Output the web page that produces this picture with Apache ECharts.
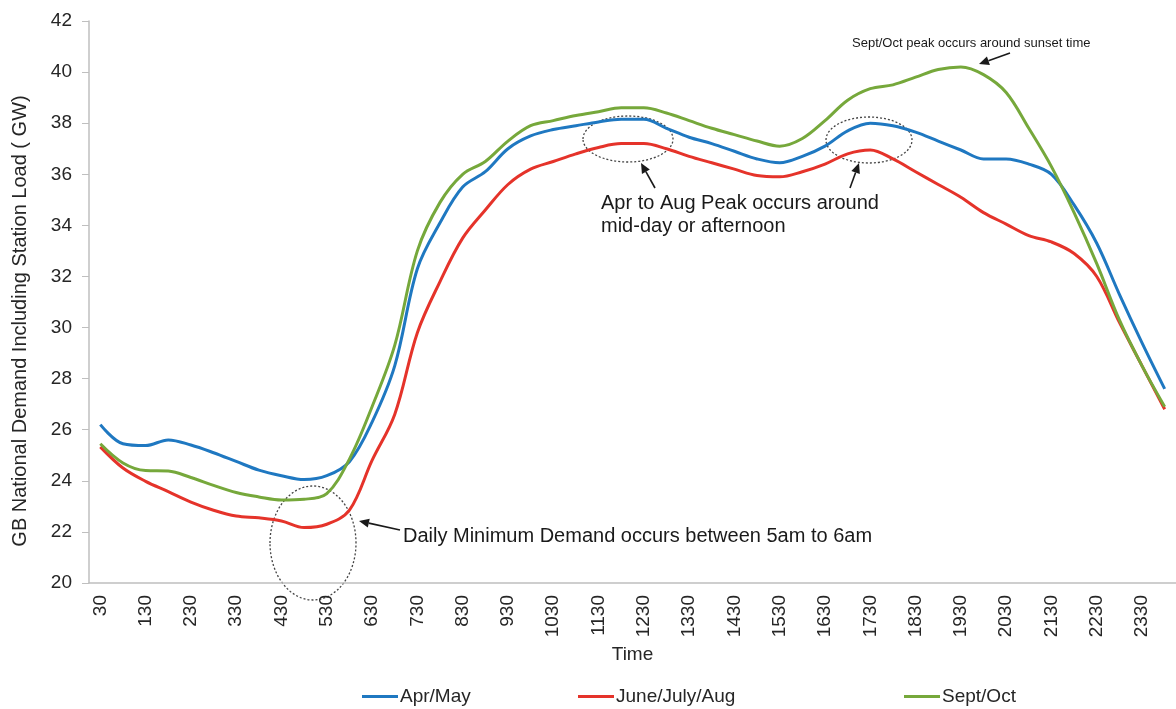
<!DOCTYPE html>
<html>
<head>
<meta charset="utf-8">
<script src="https://cdn.jsdelivr.net/npm/echarts@6/dist/echarts.min.js"></script>
<style>
  html, body { margin: 0; padding: 0; background: #fff; }
  #chart { width: 1176px; height: 709px; }
</style>
</head>
<body>
<div id="chart"></div>
<script>
// half-hourly settlement times
var times = ['30','100','130','200','230','300','330','400','430','500','530','600',
  '630','700','730','800','830','900','930','1000','1030','1100','1130','1200',
  '1230','1300','1330','1400','1430','1500','1530','1600','1630','1700','1730','1800',
  '1830','1900','1930','2000','2030','2100','2130','2200','2230','2300','2330','0'];

var aprMay = [26.2, 25.45, 25.38, 25.6, 25.4, 25.1, 24.76, 24.42, 24.2, 24.05, 24.2, 24.75,
  26.3, 28.5, 32.3, 34.1, 35.5, 36.1, 37.0, 37.5, 37.75, 37.9, 38.05, 38.15,
  38.15, 37.8, 37.45, 37.2, 36.9, 36.6, 36.45, 36.7, 37.1, 37.7, 38.0, 37.9,
  37.65, 37.3, 36.95, 36.6, 36.6, 36.4, 36.0, 34.8, 33.3, 31.3, 29.4, 27.6];

var summer = [25.33, 24.5, 23.98, 23.58, 23.17, 22.85, 22.62, 22.55, 22.43, 22.17, 22.3, 22.85,
  24.8, 26.6, 29.8, 31.8, 33.5, 34.6, 35.6, 36.2, 36.5, 36.8, 37.05, 37.2,
  37.2, 37.0, 36.7, 36.45, 36.2, 35.95, 35.9, 36.1, 36.4, 36.8, 36.95, 36.6,
  36.1, 35.6, 35.1, 34.5, 34.05, 33.6, 33.35, 32.9, 32.0, 30.2, 28.5, 26.8];

var septOct = [25.45, 24.7, 24.4, 24.38, 24.13, 23.82, 23.54, 23.37, 23.25, 23.28, 23.5, 24.85,
  26.9, 29.3, 33.0, 34.9, 36.0, 36.5, 37.3, 37.9, 38.1, 38.3, 38.45, 38.6,
  38.6, 38.4, 38.1, 37.8, 37.55, 37.3, 37.1, 37.4, 38.1, 38.9, 39.35, 39.5,
  39.8, 40.1, 40.2, 39.9, 39.2, 37.8, 36.3, 34.5, 32.5, 30.3, 28.5, 26.9];

var seriesNames = ['Apr/May', 'June/July/Aug', 'Sept/Oct'];
var colors = ['#1f78c1', '#e5332a', '#76a83b'];

var FONT = 'Liberation Sans, Arial, sans-serif';

function arrow(x1, y1, x2, y2) {
  // line from (x1,y1) with head at (x2,y2)
  var ang = Math.atan2(y2 - y1, x2 - x1);
  var len = 10, half = 4.5;
  var bx = x2 - len * Math.cos(ang), by = y2 - len * Math.sin(ang);
  var px = -Math.sin(ang) * half, py = Math.cos(ang) * half;
  return [
    { type: 'line', shape: { x1: x1, y1: y1, x2: bx, y2: by },
      style: { stroke: '#1a1a1a', lineWidth: 1.6 } },
    { type: 'polygon', shape: { points: [[x2, y2], [bx + px, by + py], [bx - px, by - py]] },
      style: { fill: '#1a1a1a' } }
  ];
}

function ring(cx, cy, rx, ry) {
  return { type: 'ellipse', shape: { cx: cx, cy: cy, rx: rx, ry: ry },
    style: { fill: null, stroke: '#444', lineWidth: 1.3, lineDash: [2, 2] } };
}

function label(x, y, text, size) {
  return { type: 'text', x: x, y: y,
    style: { text: text, fill: '#1a1a1a', font: size + 'px ' + FONT, verticalAlign: 'middle' } };
}

var chart = echarts.init(document.getElementById('chart'));

var graphics = [
  { type: 'text', x: 20, y: 321, rotation: Math.PI / 2,
    style: { text: 'GB National Demand Including Station Load ( GW)', fill: '#262626',
      font: '20px ' + FONT, align: 'center', verticalAlign: 'middle' } },
  ring(628, 139, 45, 23),
  ring(869, 140, 43, 23),
  ring(313, 543, 43, 57),
  label(852, 43, 'Sept/Oct peak occurs around sunset time', 13),
  label(601, 203, 'Apr to Aug Peak occurs around', 20),
  label(601, 226, 'mid-day or afternoon', 20),
  label(403, 536, 'Daily Minimum Demand occurs between 5am to 6am', 20)
].concat(arrow(1010, 53, 979, 64), arrow(655, 188, 641, 163),
  arrow(850, 188, 859, 163), arrow(400, 530, 359, 521));

function legendAt(left, name) {
  return {
    left: left, top: 687, data: [name], icon: 'rect',
    itemWidth: 36, itemHeight: 3, itemGap: 0, padding: 0,
    textStyle: { fontSize: 19, fontFamily: FONT, color: '#262626', padding: [0, 0, 0, -3] }
  };
}

chart.setOption({
  animation: false,
  color: colors,
  grid: { left: 89, top: 21, width: 1094, height: 562 },
  legend: [legendAt(362, seriesNames[0]), legendAt(578, seriesNames[1]), legendAt(904, seriesNames[2])],
  xAxis: {
    type: 'category',
    data: times,
    name: 'Time',
    nameLocation: 'middle',
    nameGap: 62,
    nameTextStyle: { fontSize: 19, fontFamily: FONT, color: '#262626' },
    axisLine: { lineStyle: { color: '#bfbfbf', width: 1.5 } },
    axisTick: { interval: 0, length: 6, lineStyle: { color: '#bfbfbf' } },
    axisLabel: { interval: 1, rotate: 90, margin: 12, fontSize: 19, fontFamily: FONT, color: '#262626' }
  },
  yAxis: {
    type: 'value',
    min: 20, max: 42, interval: 2,
    axisLine: { show: true, lineStyle: { color: '#bfbfbf', width: 1.5 } },
    axisTick: { show: true, length: 7, lineStyle: { color: '#bfbfbf' } },
    axisLabel: { margin: 17, fontSize: 19, fontFamily: FONT, color: '#262626' },
    splitLine: { show: false }
  },
  series: [
    { name: seriesNames[0], type: 'line', data: aprMay, smooth: 0.35, showSymbol: false, lineStyle: { width: 3 } },
    { name: seriesNames[1], type: 'line', data: summer, smooth: 0.35, showSymbol: false, lineStyle: { width: 3 } },
    { name: seriesNames[2], type: 'line', data: septOct, smooth: 0.35, showSymbol: false, lineStyle: { width: 3 } }
  ],
  graphic: graphics
});
</script>
</body>
</html>
